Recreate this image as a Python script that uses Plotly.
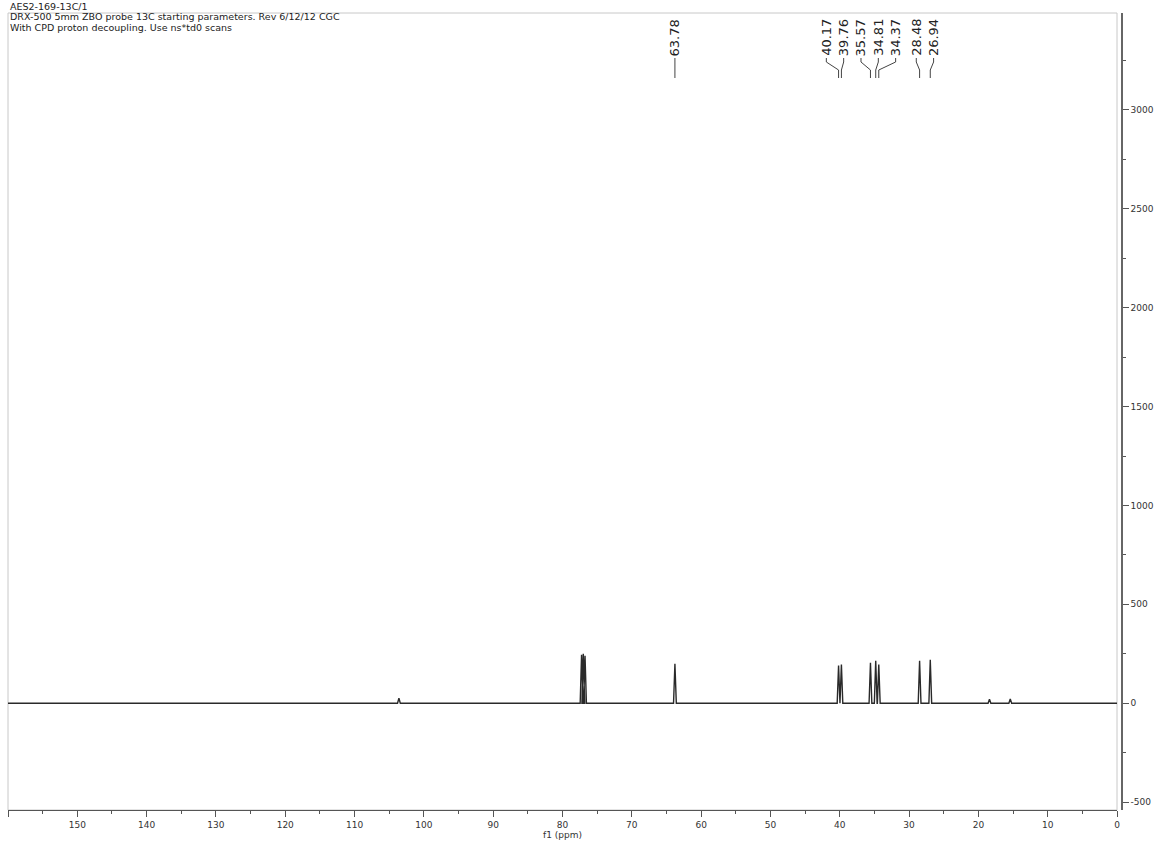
import plotly.graph_objects as go

# ---------------- data ----------------
peak_ppm = [103.6, 77.25, 77.00, 76.75, 63.78, 40.17, 39.76, 35.57, 34.81, 34.37, 28.48, 26.94, 18.4, 15.4]
peak_height = [25, 245, 250, 240, 200, 190, 195, 205, 215, 195, 215, 220, 20, 22]
label_ppm = [63.78, 40.17, 39.76, 35.57, 34.81, 34.37, 28.48, 26.94]
label_text = ["63.78", "40.17", "39.76", "35.57", "34.81", "34.37", "28.48", "26.94"]
x_ticks = [160, 150, 140, 130, 120, 110, 100, 90, 80, 70, 60, 50, 40, 30, 20, 10, 0]
y_ticks = [-500, 0, 500, 1000, 1500, 2000, 2500, 3000]
header_lines = [
    "AES2-169-13C/1",
    "DRX-500 5mm ZBO probe 13C starting parameters. Rev 6/12/12 CGC",
    "With CPD proton decoupling. Use ns*td0 scans",
]

# ---------------- geometry ----------------
W, H = 1159, 842
L, R, T, B = 8, 37, 13, 32
PLOT_RIGHT = 1117
PAPER_W = W - L - R
PLOT_H = H - T - B
X_MAX, X_MIN = 160, 0
HALF_W = 0.2


def py(pix):
    return (H - B - pix) / PLOT_H


def px(pix):
    return (pix - L) / PAPER_W


# spectrum trace built from peak list
order = sorted(range(len(peak_ppm)), key=lambda i: -peak_ppm[i])
xs, ys = [X_MAX], [0]
for i in order:
    p, h = peak_ppm[i], peak_height[i]
    xs += [p + HALF_W, p, p - HALF_W]
    ys += [0, h, 0]
xs.append(X_MIN)
ys.append(0)

# spread labels so they don't overlap
MIN_SEP = 2.5
groups = [[p] for p in sorted(label_ppm, reverse=True)]
changed = True
while changed:
    changed = False
    pos = []
    for g in groups:
        c = sum(g) / len(g)
        pos.append([c + MIN_SEP * ((len(g) - 1) / 2 - k) for k in range(len(g))])
    for gi in range(len(groups) - 1):
        if pos[gi][-1] - pos[gi + 1][0] < MIN_SEP:
            groups[gi] = groups[gi] + groups[gi + 1]
            del groups[gi + 1]
            changed = True
            break
label_pos = [v for pl in pos for v in pl]
sorted_labels = sorted(zip(label_ppm, label_text), key=lambda t: -t[0])

fig = go.Figure()
fig.add_trace(go.Scatter(x=xs, y=ys, mode="lines",
                         line=dict(color="#2a2a2a", width=1.4),
                         hoverinfo="skip", showlegend=False))

annotations = []
shapes = []
TEXT_BOTTOM, Y1, Y2, Y3 = 58, 62, 70, 78
for (p, txt), lx in zip(sorted_labels, label_pos):
    annotations.append(dict(
        x=lx, xref="x", y=py(TEXT_BOTTOM), yref="paper",
        text=txt, textangle=-90, showarrow=False,
        xanchor="center", yanchor="bottom",
        font=dict(family="DejaVu Sans", size=13, color="#222")))
    path = (f"M {lx},{py(TEXT_BOTTOM)} L {lx},{py(Y1)} "
            f"L {p},{py(Y2)} L {p},{py(Y3)}")
    shapes.append(dict(type="path", path=path, xref="x", yref="paper",
                       line=dict(color="#444", width=1)))

for k, line in enumerate(header_lines):
    annotations.append(dict(
        x=px(8), xref="paper", y=py(6 + 10.5 * k), yref="paper",
        text=line, showarrow=False, xanchor="left", yanchor="middle",
        font=dict(family="DejaVu Sans", size=9.5, color="#222")))

# light frame around the plot area
shapes.append(dict(type="rect", xref="x domain", yref="y domain",
                   x0=0, x1=1, y0=0, y1=1,
                   line=dict(color="#c8c8c8", width=1), layer="below"))

fig.update_layout(
    width=W, height=H,
    margin=dict(l=L, r=R, t=T, b=B),
    paper_bgcolor="white", plot_bgcolor="white",
    showlegend=False,
    annotations=annotations,
    shapes=shapes,
    xaxis=dict(
        range=[X_MAX, X_MIN], domain=[0, px(PLOT_RIGHT)],
        tickvals=x_ticks, ticktext=[str(v) for v in x_ticks],
        ticks="outside", ticklen=6, tickcolor="#555",
        showline=True, linecolor="#555", linewidth=1,
        showgrid=False, zeroline=False,
        minor=dict(dtick=5, ticks="outside", ticklen=3, tickcolor="#555"),
        tickfont=dict(family="DejaVu Sans", size=9, color="#333"),
        title=dict(text="f1 (ppm)", standoff=0,
                   font=dict(family="DejaVu Sans", size=9, color="#333")),
        automargin=False,
    ),
    yaxis=dict(
        range=[-540, 3490], side="right", anchor="free", position=1,
        tickvals=y_ticks, ticktext=[str(v) for v in y_ticks],
        ticks="outside", ticklen=6, tickcolor="#555",
        showline=True, linecolor="#666", linewidth=1.5,
        showgrid=False, zeroline=False,
        minor=dict(dtick=250, ticks="outside", ticklen=3, tickcolor="#555"),
        tickfont=dict(family="DejaVu Sans", size=9, color="#333"),
        automargin=False,
    ),
)

fig.write_html("out.html", config={"displayModeBar": False},
               post_script="document.body.style.margin='0';")
